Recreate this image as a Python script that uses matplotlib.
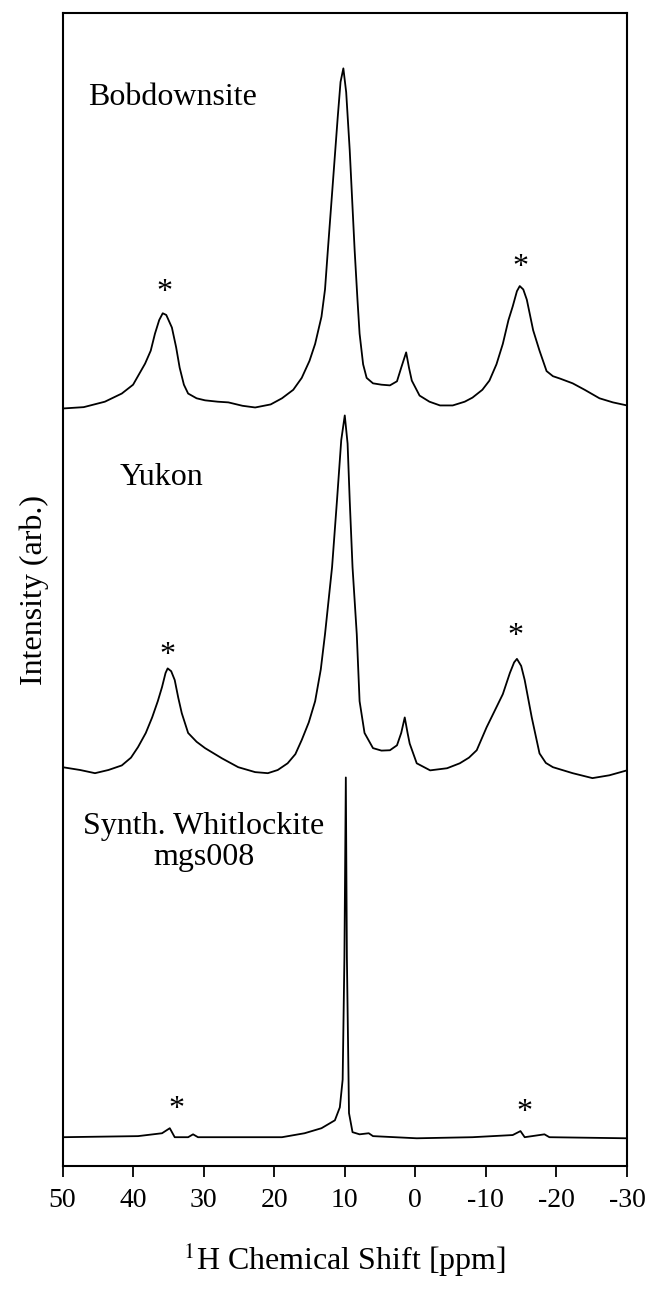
import matplotlib
matplotlib.use("Agg")
from matplotlib import pyplot as plt

plt.rcParams['font.family'] = ['Liberation Serif', 'DejaVu Serif']
plt.rcParams['axes.unicode_minus'] = False
plt.rcParams['mathtext.fontset'] = 'stix'

# spectra: shift (ppm) and intensity (main peak = 1)
bob_ppm = [50.0, 47.0, 44.0, 41.6, 40.0, 38.3, 37.5, 36.9, 36.3, 35.8, 35.3, 34.5,
           33.9, 33.4, 32.8, 32.2, 31.0, 29.8, 28.0, 26.5, 24.5, 22.7, 20.5, 18.9,
           17.3, 16.1, 15.0, 14.2, 13.3, 12.8, 12.4, 11.7, 11.0, 10.6, 10.2, 9.8,
           9.3, 8.6, 8.2, 7.9, 7.4, 6.9, 6.0, 4.8, 3.6, 2.6, 2.0, 1.3, 0.9, 0.5,
           -0.6, -2.0, -3.5, -5.3, -7.0, -8.1, -9.5, -10.5, -11.5, -12.4, -13.2,
           -13.8, -14.4, -14.8, -15.3, -15.8, -16.7, -17.6, -18.6, -19.5, -20.5,
           -22.3, -24.0, -26.1, -28.0, -30.0]
bob_int = [0.0, 0.004, 0.02, 0.044, 0.07, 0.132, 0.17, 0.22, 0.26, 0.28, 0.275, 0.238,
           0.18, 0.12, 0.07, 0.044, 0.03, 0.024, 0.02, 0.018, 0.008, 0.003, 0.012, 0.03,
           0.055, 0.09, 0.14, 0.19, 0.27, 0.35, 0.465, 0.66, 0.856, 0.96, 1.0, 0.93,
           0.76, 0.465, 0.32, 0.22, 0.13, 0.09, 0.074, 0.07, 0.068, 0.08, 0.12, 0.165, 0.12, 0.082,
           0.038, 0.02, 0.009, 0.009, 0.02, 0.032, 0.055, 0.082, 0.13, 0.19, 0.26,
           0.30, 0.345, 0.36, 0.35, 0.32, 0.23, 0.17, 0.11, 0.095, 0.088,
           0.074, 0.055, 0.03, 0.018, 0.009]

yuk_ppm = [50.0, 47.5, 45.4, 43.5, 41.6, 40.3, 39.3, 38.2, 37.3, 36.5, 35.9, 35.4,
           35.1, 34.6, 34.1, 33.6, 33.1, 32.2, 31.0, 29.8, 27.4, 25.1, 22.7, 20.9,
           19.5, 18.1, 17.0, 16.1, 15.1, 14.2, 13.4, 12.8, 11.8, 11.1, 10.5, 10.0,
           9.6, 9.3, 8.9, 8.3, 7.9, 7.2, 6.0, 4.8, 3.6, 2.6, 2.0, 1.5, 1.1, 0.8,
           -0.2, -2.1, -4.5, -6.3, -7.6, -8.7, -10.1, -11.3, -12.4, -13.4, -14.0,
           -14.4, -15.0, -15.5, -16.5, -17.6, -18.5, -19.5, -22.3, -25.1, -27.5, -30.0]
yuk_int = [0.003, -0.005, -0.014, -0.005, 0.008, 0.03, 0.06, 0.1, 0.144, 0.19, 0.23, 0.27,
           0.283, 0.275, 0.25, 0.2, 0.156, 0.1, 0.075, 0.057, 0.028, 0.003, -0.011, -0.014,
           -0.005, 0.014, 0.04, 0.08, 0.13, 0.19, 0.28, 0.38, 0.57, 0.76, 0.93, 1.0,
           0.92, 0.76, 0.57, 0.38, 0.19, 0.1, 0.057, 0.05, 0.051, 0.065, 0.1, 0.144, 0.1, 0.07,
           0.014, -0.006, 0.0, 0.014, 0.03, 0.051, 0.116, 0.165, 0.21, 0.27, 0.3,
           0.31, 0.29, 0.25, 0.144, 0.042, 0.015, 0.003, -0.014, -0.028, -0.02, -0.006]

whit_ppm = [50.0, 39.3, 35.9, 34.8, 34.1, 32.2, 31.5, 30.8, 18.9, 15.7, 13.3, 11.4,
            10.7, 10.3, 10.05, 9.85, 9.7, 9.4, 8.9, 7.9, 6.6, 6.0, -0.2, -8.1, -13.8,
            -14.9, -15.5, -18.3, -19.0, -30.0]
whit_int = [0.0, 0.003, 0.011, 0.025, 0.0, 0.0, 0.008, 0.0, 0.0, 0.011, 0.025, 0.047,
            0.083, 0.16, 0.5, 1.0, 0.5, 0.067, 0.014, 0.008, 0.011, 0.003, -0.003, 0.0, 0.006,
            0.017, 0.0, 0.008, 0.0, -0.003]

names = ['Bobdownsite', 'Yukon', 'Synth. Whitlockite\nmgs008']
offsets = [0.657, 0.345, 0.025]
scales = [0.295, 0.306, 0.312]

fig = plt.figure(figsize=(6.48, 12.89), dpi=100)
ax = fig.add_axes([0.0965, 0.0954, 0.8711, 0.8945])

spectra = [(bob_ppm, bob_int), (yuk_ppm, yuk_int), (whit_ppm, whit_int)]
for (ppm, inten), off, sc in zip(spectra, offsets, scales):
    ax.plot(ppm, [off + sc * v for v in inten], color='black', linewidth=1.3)

# sample names
ax.text(46.4, 0.927, names[0], fontsize=23, ha='left', va='center')
ax.text(41.9, 0.597, names[1], fontsize=23, ha='left', va='center')
ax.text(30.0, 0.281, names[2], fontsize=23, ha='center', va='center', linespacing=1.05)

# spinning sidebands
stars_x = [35.5, -14.9, 35.1, -14.2, 33.9, -15.4]
stars_y = [0.758, 0.779, 0.443, 0.459, 0.049, 0.046]
for sx, sy in zip(stars_x, stars_y):
    ax.text(sx, sy, '*', fontsize=23, ha='center', va='center')

ax.set_xlim(50, -30)
ax.set_ylim(0, 1)
ax.set_xticks([50, 40, 30, 20, 10, 0, -10, -20, -30])
ax.set_yticks([])
ax.tick_params(axis='x', direction='out', length=8, width=1.3, labelsize=20, pad=8)
for sp in ax.spines.values():
    sp.set_linewidth(1.5)

ax.set_xlabel(r'$^{1}$H Chemical Shift [ppm]', fontsize=23, labelpad=20)
ax.set_ylabel('Intensity (arb.)', fontsize=23, labelpad=10)

plt.savefig('out.png', dpi=100)
